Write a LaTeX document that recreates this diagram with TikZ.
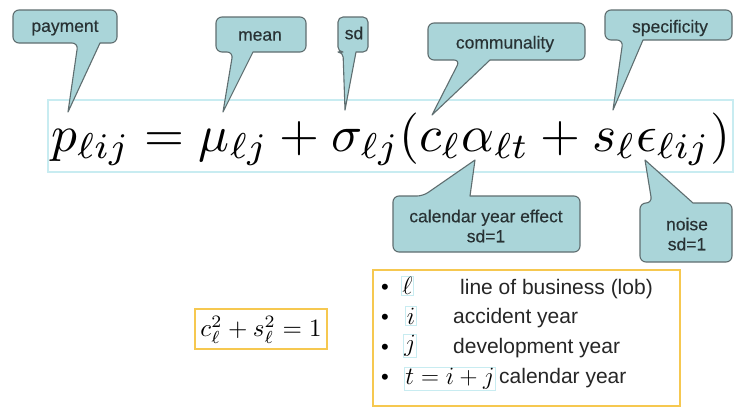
\documentclass[tikz,border=0pt]{standalone}
\usepackage[no-math]{fontspec}
\setmainfont{Liberation Sans}
\newfontfamily\callfont[FakeBold=0.35]{Liberation Sans}
\usepackage{graphicx}
\definecolor{callfill}{RGB}{170,213,217}
\definecolor{callline}{RGB}{95,110,112}
\definecolor{eqline}{RGB}{200,236,241}
\definecolor{goldline}{RGB}{246,200,80}
\definecolor{calltext}{RGB}{40,50,52}
\tikzset{
  callout/.style={fill=callfill,draw=callline,line width=1.1pt,line join=round},
  calltxt/.style={font=\callfont\fontsize{17.5}{20}\selectfont,text=calltext,align=center,inner sep=0pt},
  goldbox/.style={draw=goldline,line width=1.6pt},
  eqbox/.style={draw=eqline,line width=1.2pt},
  symbox/.style={draw=eqline,line width=1pt,inner sep=1.2pt,font=\fontsize{25}{27}\selectfont},
  itemtxt/.style={anchor=west,inner sep=0pt,font=\fontsize{21}{24}\selectfont,text=black!85},
  bul/.style={inner sep=0pt,font=\fontsize{22}{24}\selectfont}
}
\begin{document}
\begin{tikzpicture}[x=1pt,y=-1pt]
\useasboundingbox (0,0) rectangle (734,407);
\fill[white] (0,0) rectangle (734,407);

% main equation
\draw[eqbox] (48,100) rectangle (733,172);
\node[anchor=base west,inner sep=0pt] (eq) at (51,151)
  {\resizebox{679pt}{!}{$p_{\ell ij} = \mu_{\ell j} + \sigma_{\ell j}(c_\ell\alpha_{\ell t} + s_\ell\epsilon_{\ell ij})$}};

% pointer coordinates
\coordinate (payP) at (68,112);
\coordinate (meanP) at (223,112);
\coordinate (sdP) at (345,110);
\coordinate (comP) at (432,115);
\coordinate (specP) at (613,110);
\coordinate (calP) at (475,160);
\coordinate (noiseP) at (645,160);

% callouts
\path[callout] (payP) -- (100,43) [rounded corners=6pt] -- (117,43) -- (117,10) -- (13,10) -- (13,43) -- (78,43) [sharp corners] -- cycle;
\node[calltxt] (pay) at (65,28) {payment};

\path[callout] (meanP) -- (253,52) [rounded corners=6pt] -- (306,52) -- (306,17) -- (216,17) -- (216,52) -- (233,52) [sharp corners] -- cycle;
\node[calltxt] (mean) at (260,36) {mean};

\path[callout] (sdP) -- (356,52) [rounded corners=5pt] -- (368,52) -- (368,17) -- (338,17) -- (338,52) -- (343,52) [sharp corners] -- cycle;
\node[calltxt] (sd) at (354,33) {sd};

\path[callout] (comP) -- (490,60) [rounded corners=6pt] -- (585,60) -- (585,23) -- (428,23) -- (428,60) -- (460,60) [sharp corners] -- cycle;
\node[calltxt] (com) at (505,44) {communality};

\path[callout] (specP) -- (643,40) [rounded corners=6pt] -- (732,40) -- (732,10) -- (605,10) -- (605,40) -- (623,40) [sharp corners] -- cycle;
\node[calltxt] (spec) at (670,28) {specificity};

\path[callout] (calP) -- (470,196) [rounded corners=6pt] -- (580,196) -- (580,252) -- (393,252) -- (393,196) -- (423,196) [sharp corners] -- cycle;
\node[calltxt] (cal) at (486,226) {calendar year effect\\sd=1};

\path[callout] (noiseP) -- (693,203) [rounded corners=6pt] -- (732,203) -- (732,262) -- (640,262) -- (640,203) -- (652,203) [sharp corners] -- cycle;
\node[calltxt] (noise) at (687,234) {noise\\sd=1};

% constraint
\draw[goldbox] (195,309) rectangle (327,349);
\node[inner sep=0pt] (cons) at (261,330)
  {\resizebox{121pt}{!}{$c_\ell^2 + s_\ell^2 = 1$}};

% index list
\draw[goldbox] (373,270) rectangle (680,406);
\node[bul] (b1) at (385,289) {•};
\node[bul] (b2) at (385,319) {•};
\node[bul] (b3) at (385,349) {•};
\node[bul] (b4) at (385,379) {•};
\node[symbox] (s1) at (407.5,286) {$\ell$};
\node[symbox] (s2) at (411,316) {$i$};
\node[symbox] (s3) at (410,346) {$j$};
\node[symbox] (s4) at (450,379) {$t=i+j$};
\node[itemtxt] (t1) at (460,289) {line of business (lob)};
\node[itemtxt] (t2) at (453,318) {accident year};
\node[itemtxt] (t3) at (453,348) {development year};
\node[itemtxt] (t4) at (499,378) {calendar year};
\end{tikzpicture}
\end{document}
